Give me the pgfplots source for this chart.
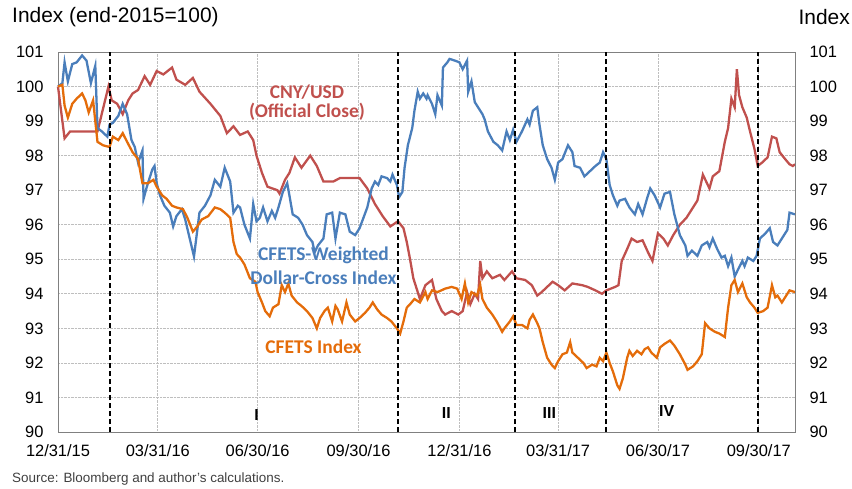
\documentclass[border=0pt]{standalone}
\usepackage{fontspec}
\setmainfont{Liberation Sans}
\newfontfamily\carlito{Carlito}
\usepackage{pgfplots}
\pgfplotsset{compat=1.18}

\definecolor{cnyred}{RGB}{192,80,77}
\definecolor{cfblue}{RGB}{74,126,187}
\definecolor{cforange}{RGB}{228,108,10}
\definecolor{gridgray}{RGB}{190,190,190}
\definecolor{framegray}{RGB}{128,128,128}

% x = days since 31 Dec 2015
\pgfplotstableread{
d v
0 100.0
6 98.5
11 98.7
36 98.7
46 100.0
49 99.6
54 99.5
59 99.2
64 99.6
68 99.8
73 99.9
79 100.3
84 100.05
90 100.45
96 100.35
104 100.55
108 100.2
116 100.05
123 100.25
129 99.85
139 99.5
148 99.15
154 98.65
160 98.85
166 98.6
173 98.7
178 98.45
181 98.0
186 97.5
191 97.1
200 97.0
202 96.9
207 97.3
211 97.5
216 97.95
222 97.65
230 98.0
236 97.7
242 97.25
251 97.25
257 97.35
275 97.35
282 97.05
289 96.6
296 96.25
303 95.95
310 96.1
315 95.9
318 95.5
321 95.0
324 94.45
327 94.15
330 93.85
335 94.25
339 94.35
341 94.4
345 93.85
350 93.5
353 93.4
359 93.5
365 93.4
369 93.5
373 94.05
376 93.7
380 94.0
383 93.85
385 94.95
387 94.45
391 94.65
396 94.45
403 94.55
407 94.4
414 94.65
418 94.45
426 94.4
432 94.25
437 93.95
441 94.05
446 94.2
451 94.35
456 94.25
462 94.1
469 94.3
478 94.25
483 94.2
490 94.1
496 94.0
500 94.1
508 94.2
511 94.25
514 94.95
519 95.3
523 95.6
528 95.5
533 95.55
538 95.2
542 94.95
547 95.75
552 95.6
556 95.4
561 95.7
567 96.0
573 96.2
579 96.5
583 96.7
588 97.45
594 97.05
597 97.4
603 97.55
608 98.4
611 98.8
614 99.65
617 99.4
619 100.5
621 99.75
624 99.4
628 99.1
631 98.7
635 98.2
638 97.7
642 97.8
647 97.95
651 98.55
655 98.5
658 98.1
663 97.9
667 97.75
670 97.7
672 97.75
}\cnyusd

\pgfplotstableread{
d v
0 100.0
4 100.1
6 100.7
9 100.15
13 100.65
17 100.7
22 100.9
26 100.75
30 100.1
34 100.6
36 98.8
40 98.7
45 98.55
47 98.9
50 98.95
55 99.15
59 99.5
63 99.2
67 98.45
70 98.25
73 97.8
77 98.15
78 96.75
81 97.1
86 97.6
88 97.7
90 97.2
93 96.85
97 96.55
102 96.35
105 95.95
108 96.25
113 96.45
116 96.15
124 95.08
129 96.35
134 96.55
139 96.85
143 97.3
148 97.1
152 97.65
157 97.25
160 96.35
164 96.55
166 96.5
170 96.0
175 95.6
178 96.6
181 96.1
184 96.2
187 96.5
191 96.1
195 96.4
198 96.2
201 96.5
205 96.95
209 97.2
211 96.85
214 96.3
219 96.2
223 96.0
227 95.7
232 95.5
234 95.2
237 95.4
242 95.6
245 96.3
250 96.35
253 95.6
257 96.35
262 96.3
266 95.8
271 95.7
275 95.9
282 96.5
286 97.05
289 97.25
292 97.15
295 97.4
300 97.35
303 97.25
305 97.45
309 97.15
311 96.8
314 96.95
316 97.65
319 98.3
323 98.8
325 99.3
328 99.85
330 99.65
333 99.8
336 99.65
337 99.75
341 99.5
344 99.2
346 99.75
350 99.45
351 100.55
355 100.7
357 100.8
362 100.75
366 100.7
369 100.5
373 100.75
374 99.85
377 100.15
380 99.55
383 99.4
387 99.2
389 99.05
392 98.7
397 98.4
401 98.3
405 98.15
409 98.7
412 98.45
415 98.75
418 98.4
423 98.7
428 99.05
430 98.9
433 99.3
437 99.4
439 98.9
442 98.3
446 97.9
450 97.65
453 97.3
456 97.8
460 97.9
465 98.3
469 98.1
471 97.7
476 97.65
480 97.4
485 97.55
490 97.7
494 97.8
497 98.1
500 97.9
503 97.15
506 96.85
510 96.55
512 96.7
517 96.75
521 96.5
526 96.3
529 96.6
533 96.3
537 96.75
540 97.05
544 96.85
549 96.5
553 96.9
558 96.95
562 96.3
567 95.7
572 95.4
574 95.1
578 95.25
583 95.1
587 95.4
592 95.5
594 95.35
597 95.6
601 95.3
605 95.05
608 95.1
611 94.8
614 95.05
617 94.5
620 94.7
624 94.95
626 94.8
629 95.05
634 94.95
637 95.1
640 95.6
645 95.75
649 95.9
652 95.5
656 95.4
660 95.6
665 95.85
667 96.35
672 96.3
}\cfetsdollar

\pgfplotstableread{
d v
0 100.0
4 100.05
6 99.45
9 99.1
13 99.5
17 99.65
22 99.8
25 99.6
28 99.25
32 99.6
36 98.4
41 98.3
47 98.25
50 98.55
55 98.45
59 98.65
63 98.4
68 98.1
73 97.9
77 97.2
82 97.2
87 97.3
90 97.1
95 96.85
99 96.75
104 96.55
108 96.5
114 96.45
118 96.2
123 95.8
127 95.95
131 96.15
137 96.25
143 96.5
148 96.45
152 96.35
157 96.2
160 95.5
163 95.15
166 95.05
170 94.85
175 94.45
180 94.35
182 94.05
186 93.75
189 93.5
193 93.35
196 93.6
201 93.7
204 94.25
207 94.05
210 94.3
213 93.95
218 93.75
222 93.65
227 93.5
232 93.3
236 93.0
239 93.3
243 93.5
246 93.6
250 93.2
253 93.65
255 93.55
259 93.2
263 93.75
266 93.4
271 93.2
275 93.3
280 93.45
284 93.6
287 93.75
291 93.55
295 93.4
300 93.3
304 93.2
309 93.0
312 92.85
315 93.2
318 93.6
321 93.7
325 93.85
330 93.75
335 94.05
337 93.85
341 94.1
346 94.05
353 94.15
359 94.2
364 94.15
368 93.85
371 94.3
374 93.75
377 94.05
382 93.95
385 94.25
387 93.85
391 93.6
396 93.4
400 93.2
405 92.9
407 93.0
412 93.2
415 93.35
418 93.1
423 93.1
428 93.0
430 93.25
433 93.4
437 93.15
439 93.0
442 92.6
446 92.15
450 91.95
453 91.85
456 92.05
460 92.25
464 92.3
467 92.6
469 92.3
474 92.15
479 92.0
482 91.85
487 91.95
491 91.9
494 92.15
497 92.05
500 92.3
503 92.0
506 91.75
510 91.35
512 91.25
515 91.55
519 92.15
521 92.35
524 92.2
528 92.35
532 92.25
535 92.4
538 92.45
541 92.3
546 92.15
549 92.45
553 92.55
558 92.65
562 92.5
567 92.25
572 91.95
574 91.8
579 91.9
583 92.05
587 92.25
590 93.15
594 93.0
599 92.9
603 92.85
608 92.75
611 93.6
614 94.25
617 94.4
620 94.05
624 94.3
628 93.9
631 93.75
635 93.6
638 93.45
643 93.5
647 93.6
651 94.25
654 93.9
656 93.95
660 93.75
663 93.9
667 94.1
672 94.05
}\cfetsindex

\begin{document}
\begin{tikzpicture}
\useasboundingbox (0bp,0bp) rectangle (852bp,-489bp);

\node[anchor=west,font=\fontsize{21}{21}\selectfont,inner sep=0pt] at (12bp,-17bp) {Index (end-2015=100)};
\node[anchor=east,font=\fontsize{21}{21}\selectfont,inner sep=0pt] at (850bp,-17bp) {Index};
\node[anchor=west,font=\fontsize{13.5}{13.5}\selectfont,inner sep=0pt,text=black!75] at (12bp,-479bp) {Source: Bloomberg and author's calculations.};

\begin{axis}[
  at={(58bp,-432bp)}, anchor=south west,
  scale only axis, width=737bp, height=380bp,
  xmin=0, xmax=672, ymin=90, ymax=101,
  xtick={0,91,182,274,366,456,547,639},
  xticklabels={12/31/15,03/31/16,06/30/16,09/30/16,12/31/16,03/31/17,06/30/17,09/30/17},
  ytick={90,91,...,101},
  /pgf/number format/assume math mode=true,
  ticklabel style={font=\fontsize{16.5}{16.5}\selectfont},
  xticklabel style={yshift=-9bp},
  yticklabel style={xshift=-11bp},
  major tick length=0pt,
  grid=major,
  grid style={gridgray, densely dotted, line width=0.7pt},
  axis line style={framegray, line width=0.9pt},
  clip=false,
]
\addplot[cnyred, line width=2.3pt] table[x=d,y=v] {\cnyusd};
\addplot[cfblue, line width=2.3pt] table[x=d,y=v] {\cfetsdollar};
\addplot[cforange, line width=2.3pt] table[x=d,y=v] {\cfetsindex};

\addplot[black, line width=2pt, dash pattern=on 5bp off 3bp] coordinates {(47,90) (47,101)};
\addplot[black, line width=2pt, dash pattern=on 5bp off 3bp] coordinates {(310,90) (310,101)};
\addplot[black, line width=2pt, dash pattern=on 5bp off 3bp] coordinates {(417,90) (417,101)};
\addplot[black, line width=2pt, dash pattern=on 5bp off 3bp] coordinates {(500,90) (500,101)};
\addplot[black, line width=2pt, dash pattern=on 5bp off 3bp] coordinates {(638,90) (638,101)};

\node[font=\fontsize{16}{16}\selectfont\bfseries] at (axis cs:181,90.5) {I};
\node[font=\fontsize{16}{16}\selectfont\bfseries] at (axis cs:354,90.55) {II};
\node[font=\fontsize{16}{16}\selectfont\bfseries] at (axis cs:448,90.55) {III};
\node[font=\fontsize{16}{16}\selectfont\bfseries] at (axis cs:555,90.6) {IV};

\node[font=\carlito\bfseries\fontsize{19.5}{19.5}\selectfont, text=cnyred, inner sep=0pt] at (axis cs:227,99.84) {CNY/USD};
\node[font=\carlito\bfseries\fontsize{19.5}{19.5}\selectfont, text=cnyred, inner sep=0pt] at (axis cs:227,99.26) {(Official Close)};
\node[font=\carlito\bfseries\fontsize{19.5}{19.5}\selectfont, text=cfblue, inner sep=0pt] at (axis cs:242,95.12) {CFETS-Weighted};
\node[font=\carlito\bfseries\fontsize{19.5}{19.5}\selectfont, text=cfblue, inner sep=0pt] at (axis cs:242,94.46) {Dollar-Cross Index};
\node[font=\carlito\bfseries\fontsize{19.5}{19.5}\selectfont, text=cforange, inner sep=0pt] at (axis cs:233,92.46) {CFETS Index};
\end{axis}

\begin{axis}[
  at={(58bp,-432bp)}, anchor=south west,
  scale only axis, width=737bp, height=380bp,
  xmin=0, xmax=672, ymin=90, ymax=101,
  hide x axis,
  axis y line*=right,
  ytick={90,91,...,101},
  /pgf/number format/assume math mode=true,
  ticklabel style={font=\fontsize{16.5}{16.5}\selectfont},
  yticklabel style={xshift=11bp},
  major tick length=0pt,
  axis line style={framegray, line width=0.9pt},
]
\end{axis}
\end{tikzpicture}
\end{document}
